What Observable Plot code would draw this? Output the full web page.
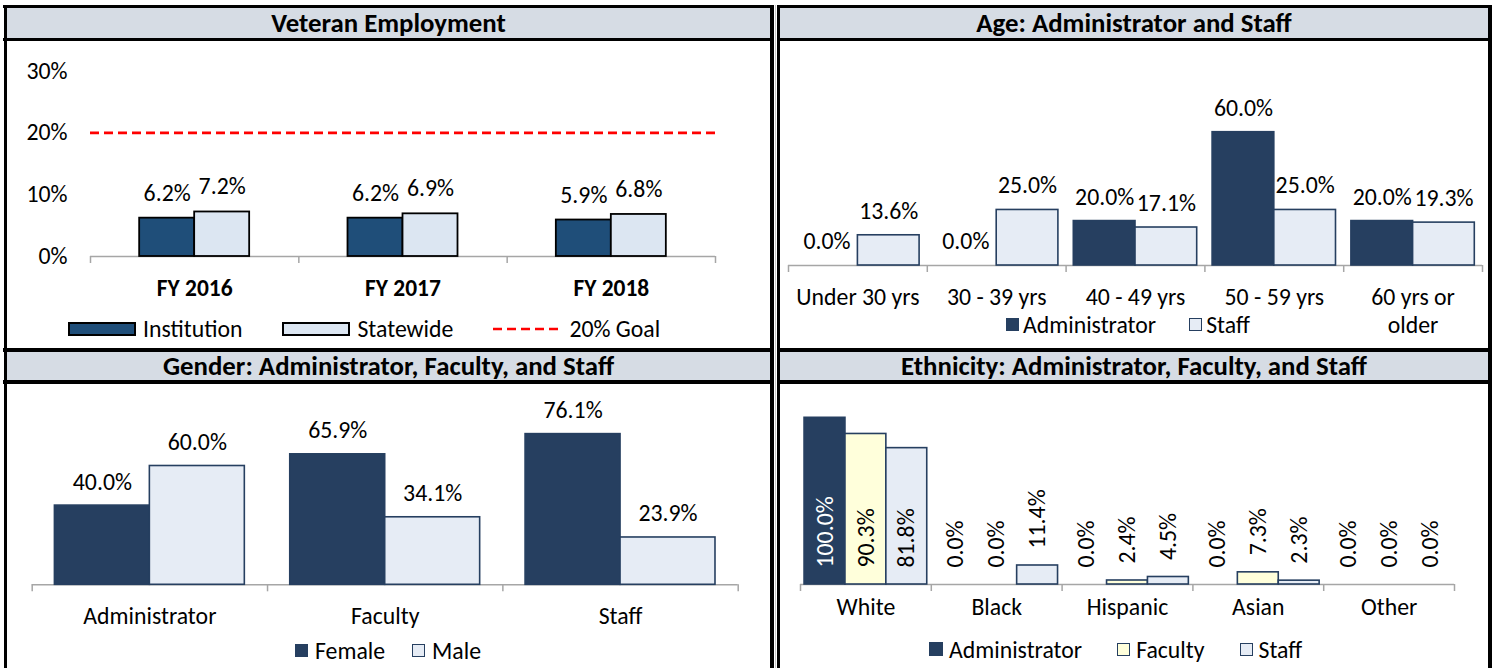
<!DOCTYPE html>
<html><head><meta charset="utf-8">
<script src="https://cdn.jsdelivr.net/npm/d3@7"></script>
<script src="https://cdn.jsdelivr.net/npm/@observablehq/plot@0.6"></script>
<style>
html,body{margin:0;padding:0;background:#fff;}
#page{position:relative;width:1492px;height:668px;overflow:hidden;background:#fff;}
.abs{position:absolute;}
.hdr{position:absolute;background:#d6dce4;display:flex;align-items:center;justify-content:center;font-weight:bold;color:#000;white-space:nowrap;}
.legend{position:absolute;display:flex;align-items:center;white-space:nowrap;color:#000;}
.sw{display:inline-block;box-sizing:border-box;flex:none;}
</style></head><body><div id="page"></div>
<script>
// ---------- data ----------
const vetCategories = ["FY 2016", "FY 2017", "FY 2018"];
const vetInstitution = [6.2, 6.2, 5.9];
const vetStatewide = [7.2, 6.9, 6.8];
const vetGoal = 20;
const vetTicks = [0, 10, 20, 30];

const ageCategories = ["Under 30 yrs", "30 - 39 yrs", "40 - 49 yrs", "50 - 59 yrs", "60 yrs or\nolder"];
const ageAdministrator = [0, 0, 20, 60, 20];
const ageStaff = [13.6, 25, 17.1, 25, 19.3];

const genderCategories = ["Administrator", "Faculty", "Staff"];
const genderFemale = [40, 65.9, 76.1];
const genderMale = [60, 34.1, 23.9];

const ethCategories = ["White", "Black", "Hispanic", "Asian", "Other"];
const ethAdministrator = [100, 0, 0, 0, 0];
const ethFaculty = [90.3, 0, 2.4, 7.3, 0];
const ethStaff = [81.8, 11.4, 4.5, 2.3, 0];

const titles = ["Veteran Employment", "Age: Administrator and Staff",
  "Gender: Administrator, Faculty, and Staff", "Ethnicity: Administrator, Faculty, and Staff"];

// ---------- styles ----------
const FONT = "Carlito, Lato, 'Open Sans', sans-serif";
const AXIS = "#a6a6a6";
const DARK = "#263f60";
const LIGHT = "#e6ecf5";
const YELLOW = "#ffffdb";
const INST = "#1f4e79";
const STATE = "#dce6f2";
const fmt = v => v.toFixed(1) + "%";

(async function () {
  try { await document.fonts.load("400 20px Lato"); await document.fonts.load("700 20px Lato"); } catch (e) {}
  const ctx = document.createElement("canvas").getContext("2d");
  function fit(weight, pairs) {
    ctx.font = `${weight} 100px ${FONT}`;
    let m = 0, t = 0;
    for (const [s, w] of pairs) { m += ctx.measureText(s).width; t += w; }
    return 100 * t / m;
  }
  const R = fit(400, [["Administrator", 135], ["Under 30 yrs", 121.7], ["Institution", 100], ["Statewide", 96], ["Faculty", 68.7], ["6.2%", 47], ["30%", 40]]);
  const H = fit(700, [["Gender: Administrator, Faculty, and Staff", 451.7], ["Veteran Employment", 234]]);
  const B = fit(700, [["FY 2016", 76], ["FY 2018", 75.7]]);
  function baseOff(weight, size, lineH) {
    ctx.font = `${weight} ${size}px ${FONT}`;
    const m = ctx.measureText("Hg");
    const a = m.fontBoundingBoxAscent ?? size * 0.95, d = m.fontBoundingBoxDescent ?? size * 0.25;
    return (lineH - (a + d)) / 2 + a;
  }

  const page = document.getElementById("page");
  function box(l, t, w, h, bg) {
    const d = document.createElement("div");
    d.className = "abs";
    Object.assign(d.style, {left: l + "px", top: t + "px", width: w + "px", height: h + "px", background: bg});
    page.appendChild(d);
    return d;
  }

  // ---------- frame ----------
  const cols = [[3, 774], [777, 1491.5]];
  const inner = [[7, 770], [780, 1488]];
  // gray header bands
  for (const [a, b] of inner) {
    box(a, 7.5, b - a, 30, "#d6dce4");
    box(a, 351.5, b - a, 28.5, "#d6dce4");
  }
  for (const [a, b] of cols) {
    for (const [y0, y1] of [[4.5, 7.5], [37.5, 40.5], [347.5, 351.5], [380, 383.5]]) box(a, y0, b - a, y1 - y0, "#000");
  }
  for (const [x0, x1] of [[3.5, 7], [770, 774], [777, 780], [1488, 1491.5]]) box(x0, 4.5, x1 - x0, 668, "#000");
  box(774.7, 4.5, 1.3, 668, "#c8c8c8");

  function header(text, l, t, w, h) {
    const d = document.createElement("div");
    d.className = "hdr";
    Object.assign(d.style, {left: l + "px", top: t + "px", width: w + "px", height: h + "px", fontSize: H + "px", fontFamily: FONT});
    d.textContent = text;
    page.appendChild(d);
  }
  header(titles[0], 7, 7.5, 763, 30);
  header(titles[1], 780, 7.5, 708, 30);
  header(titles[2], 7, 351.5, 763, 28.5);
  header(titles[3], 780, 351.5, 708, 28.5);

  // ---------- chart builder ----------
  function groupedChart(cfg) {
    const {cats, series, group, yDomain, width, height, margin, labelGap, catOffset,
      catWeight = 400, catSize = R, catLineHeight, rotated = false, extra = [], after = []} = cfg;
    const n = cats.length, k = series.length;
    const rows = [];
    series.forEach((s, j) => s.values.forEach((v, i) => {
      const x1 = i + (1 - group) / 2 + j * group / k;
      rows.push({cat: cats[i], series: s.name, j, v, x1, x2: x1 + group / k, xm: x1 + group / (2 * k)});
    }));
    const marks = [
      Plot.ruleY([0], {stroke: AXIS, strokeWidth: 1.5}),
      Plot.axisX(d3.range(n + 1), {tickSize: 7, stroke: AXIS, strokeWidth: 1.5, fill: "none", label: null}),
      ...extra
    ];
    series.forEach((s, j) => {
      const rs = rows.filter(d => d.j === j && d.v > 0);
      marks.push(Plot.rect(rs, {x1: "x1", x2: "x2", y1: () => 0, y2: "v", fill: s.fill, stroke: s.stroke, strokeWidth: s.strokeWidth ?? 1.6}));
    });
    series.forEach((s, j) => {
      const rs = rows.filter(d => d.j === j);
      if (!rotated) {
        marks.push(Plot.text(rs, {x: "xm", y: "v", text: d => fmt(d.v), lineAnchor: "bottom", dy: -labelGap, fill: "#000"}));
      } else {
        const inside = d => d.v > 50;
        marks.push(Plot.text(rs.filter(inside), {x: "xm", y: () => 0, text: d => fmt(d.v), rotate: -90, textAnchor: "start", lineAnchor: "middle", dy: -labelGap, fill: s.insideFill ?? "#000"}));
        marks.push(Plot.text(rs.filter(d => !inside(d)), {x: "xm", y: "v", text: d => fmt(d.v), rotate: -90, textAnchor: "start", lineAnchor: "middle", dy: -labelGap, fill: "#000"}));
      }
    });
    const lh = catLineHeight ?? catSize;
    marks.push(Plot.text(cats, {x: (d, i) => i + 0.5, y: () => 0, text: d => d, fontWeight: catWeight, fontSize: catSize,
      lineAnchor: "top", lineHeight: lh / catSize, dy: catOffset - 0.71 * lh, fill: "#000"}));
    marks.push(...after);
    return Plot.plot({
      width, height,
      marginTop: margin.top, marginRight: margin.right, marginBottom: margin.bottom, marginLeft: margin.left,
      x: {domain: [0, n], axis: null},
      y: {domain: yDomain, axis: null},
      style: {fontFamily: FONT, fontSize: R + "px", background: "transparent", overflow: "visible", color: "#000"},
      marks
    });
  }
  function place(el, l, t) {
    const d = document.createElement("div");
    d.className = "abs";
    d.style.left = l + "px"; d.style.top = t + "px";
    d.appendChild(el);
    page.appendChild(d);
  }

  // ---------- Veteran Employment ----------
  place(groupedChart({
    cats: vetCategories,
    series: [
      {name: "Institution", values: vetInstitution, fill: INST, stroke: "#000", strokeWidth: 1.8},
      {name: "Statewide", values: vetStatewide, fill: STATE, stroke: "#000", strokeWidth: 1.8}
    ],
    group: 0.528, yDomain: [0, 30], width: 763, height: 280,
    margin: {top: 29.5, right: 55, bottom: 65, left: 83},
    labelGap: 17.5, catOffset: 39, catWeight: 700, catSize: B,
    extra: [
      Plot.ruleY([vetGoal], {stroke: "#ff0000", strokeWidth: 2.6, strokeDasharray: "9,5"}),
      Plot.axisY(vetTicks, {tickSize: 0, tickPadding: 23, tickFormat: d => d + "%", label: null, fill: "#000"})
    ]
  }), 7, 41);

  // ---------- Age ----------
  place(groupedChart({
    cats: ageCategories,
    series: [
      {name: "Administrator", values: ageAdministrator, fill: DARK, stroke: DARK},
      {name: "Staff", values: ageStaff, fill: LIGHT, stroke: DARK}
    ],
    group: 0.889, yDomain: [0, 60], width: 708, height: 306,
    margin: {top: 90.7, right: 6, bottom: 82, left: 8},
    labelGap: 16.5, catOffset: 39.5, catLineHeight: 28.5
  }), 780, 41);

  // ---------- Gender ----------
  place(groupedChart({
    cats: genderCategories,
    series: [
      {name: "Female", values: genderFemale, fill: DARK, stroke: DARK},
      {name: "Male", values: genderMale, fill: LIGHT, stroke: DARK}
    ],
    group: 0.807, yDomain: [0, 80], width: 763, height: 284,
    margin: {top: 41.9, right: 32.3, bottom: 83.7, left: 24.7},
    labelGap: 16, catOffset: 39
  }), 7, 384);

  // ---------- Ethnicity ----------
  place(groupedChart({
    cats: ethCategories,
    series: [
      {name: "Administrator", values: ethAdministrator, fill: DARK, stroke: DARK, insideFill: "#fff"},
      {name: "Faculty", values: ethFaculty, fill: YELLOW, stroke: DARK},
      {name: "Staff", values: ethStaff, fill: LIGHT, stroke: DARK}
    ],
    group: 0.938, yDomain: [0, 100], width: 708, height: 284,
    margin: {top: 33.3, right: 34, bottom: 84, left: 20},
    labelGap: 17, catOffset: 30, rotated: true
  }), 780, 384);

  // ---------- legends ----------
  function legend({left, baseline, items, textGap, itemGap}) {
    const d = document.createElement("div");
    d.className = "legend";
    const top = baseline - baseOff(400, R, R);
    Object.assign(d.style, {left: left + "px", top: top + "px", fontSize: R + "px", lineHeight: R + "px", fontFamily: FONT, height: R + "px"});
    items.forEach((it, idx) => {
      let sw;
      if (it.kind === "dash") {
        sw = document.createElementNS("http://www.w3.org/2000/svg", "svg");
        sw.setAttribute("width", it.w); sw.setAttribute("height", it.h);
        sw.style.flex = "none";
        const ln = document.createElementNS("http://www.w3.org/2000/svg", "line");
        ln.setAttribute("x1", 0); ln.setAttribute("x2", it.w);
        ln.setAttribute("y1", it.h / 2); ln.setAttribute("y2", it.h / 2);
        ln.setAttribute("stroke", it.stroke); ln.setAttribute("stroke-width", 2.6);
        ln.setAttribute("stroke-dasharray", "9,5");
        sw.appendChild(ln);
      } else {
        sw = document.createElement("span");
        sw.className = "sw";
        Object.assign(sw.style, {width: it.w + "px", height: it.h + "px", background: it.fill, border: `${it.bw ?? 1.5}px solid ${it.stroke}`});
      }
      if (idx > 0) sw.style.marginLeft = itemGap + "px";
      d.appendChild(sw);
      const t = document.createElement("span");
      t.textContent = it.label;
      t.style.marginLeft = textGap + "px";
      d.appendChild(t);
    });
    page.appendChild(d);
  }
  legend({left: 68, baseline: 337.5, textGap: 7, itemGap: 40, items: [
    {label: "Institution", w: 68, h: 14, fill: INST, stroke: "#000", bw: 2},
    {label: "Statewide", w: 68, h: 14, fill: STATE, stroke: "#000", bw: 2},
    {label: "20% Goal", kind: "dash", w: 69, h: 14, stroke: "#ff0000"}
  ]});
  legend({left: 1006, baseline: 333, textGap: 4, itemGap: 33, items: [
    {label: "Administrator", w: 13, h: 13, fill: DARK, stroke: DARK},
    {label: "Staff", w: 13, h: 13, fill: LIGHT, stroke: DARK}
  ]});
  legend({left: 295, baseline: 659, textGap: 7, itemGap: 27, items: [
    {label: "Female", w: 13, h: 13, fill: DARK, stroke: DARK},
    {label: "Male", w: 13, h: 13, fill: LIGHT, stroke: DARK}
  ]});
  legend({left: 929, baseline: 658, textGap: 6, itemGap: 35, items: [
    {label: "Administrator", w: 14, h: 14, fill: DARK, stroke: DARK},
    {label: "Faculty", w: 13, h: 13, fill: YELLOW, stroke: DARK},
    {label: "Staff", w: 13, h: 13, fill: LIGHT, stroke: DARK}
  ]});
})();
</script>
</body></html>
